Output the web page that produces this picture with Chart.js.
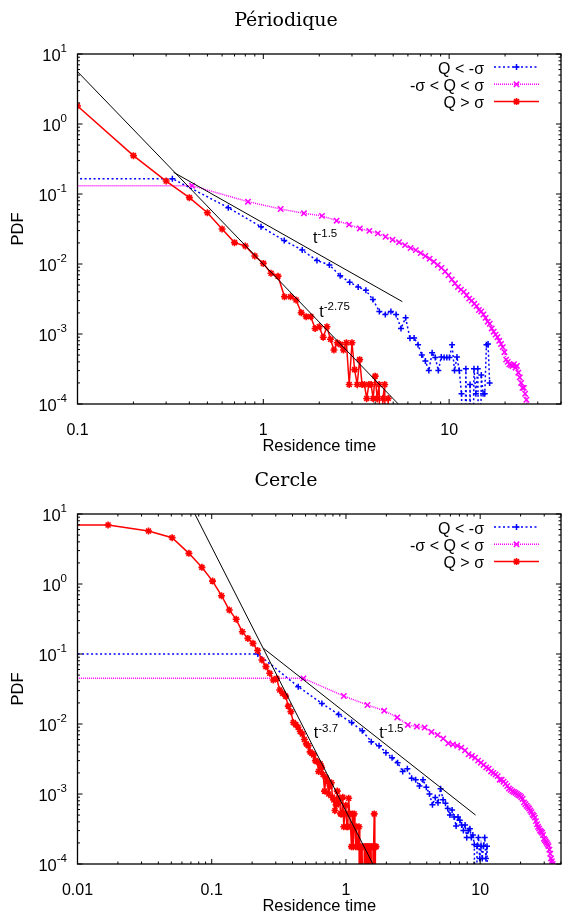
<!DOCTYPE html>
<html>
<head>
<meta charset="utf-8">
<script src="https://cdn.jsdelivr.net/npm/chart.js@4.4.1/dist/chart.umd.min.js"></script>
<style>
  body { margin: 0; width: 563px; height: 915px; overflow: hidden; background: #fff; }
  .box { position: absolute; left: 0; width: 570px; height: 460px; }
</style>
</head>
<body>
<div class="box" style="top:0"><canvas id="per" width="570" height="460"></canvas></div>
<div class="box" style="top:460px"><canvas id="cer" width="570" height="460"></canvas></div>
<script>
// --- Périodique (top) ---
// 1e-6 = empty bin (drawn below the axis, like the drops in the original)
const perBlueX = [0.05,0.324,0.648,0.972,1.296,1.62,1.944,2.268,2.592,2.916,3.24,3.564,3.888,4.212,4.536,4.86,5.184,5.508,5.832,6.156,6.48,6.804,7.128,7.452,7.776,8.1,8.424,8.748,9.072,9.396,9.72,10.04,10.37,10.69,11.02,11.34,11.66,11.99,12.31,12.64,12.96,13.28,13.61,13.93,14.26,14.58,14.9,15.23,15.55,15.88,16.2,16.52];
const perBlueY = [0.1656,0.1656,0.0638,0.0341,0.0216,0.0158,0.0112,0.0097,0.0068,0.0055,0.0047,0.0042,0.0031,0.0021,0.0019,0.0021,0.0019,0.0012,0.0017,0.00087,0.00088,0.0007,0.0005,0.00041,0.0003,0.00054,0.00046,0.0003,0.00047,0.00046,0.00046,0.00046,0.0007,0.0003,0.00047,0.0003,0.00014,1e-6,0.00032,1e-6,0.00019,1e-6,0.00032,0.00014,0.00032,1e-6,0.00026,0.00014,0.00014,0.0007,0.00072,0.0002];

const perMagX = [0.05,0.4135,0.827,1.24,1.654,2.068,2.481,2.895,3.308,3.722,4.135,4.549,4.962,5.376,5.789,6.203,6.616,7.03,7.443,7.857,8.27,8.684,9.097,9.511,9.924,10.34,10.75,11.16,11.58,11.99,12.41,12.82,13.23,13.65,14.06,14.47,14.89,15.3,15.71,16.13,16.54,16.95,17.37,17.78,18.2,18.61,19.02,19.44,19.85,20.27,20.68,21.09,21.51,21.92,22.33,22.75,23.16,23.57,23.99,24.4,24.81,25.23,25.64,26.05,26.47];
const perMagY = [0.1315,0.1315,0.0777,0.061,0.053,0.0487,0.0416,0.0365,0.0322,0.0297,0.0274,0.0245,0.0222,0.0205,0.0186,0.0169,0.0158,0.0143,0.013,0.0119,0.0108,0.0097,0.0088,0.0078,0.0069,0.006,0.0053,0.0047,0.0043,0.004,0.0036,0.0032,0.003,0.0027,0.0025,0.0022,0.0021,0.0019,0.0017,0.0015,0.0014,0.0012,0.00108,0.00098,0.0009,0.0008,0.00072,0.00065,0.00055,0.00043,0.0004,0.00037,0.00036,0.00035,0.00037,0.00033,0.00035,0.00028,0.00024,0.0002,0.00017,0.00017,0.00014,0.000115,0.00009];

const perRedX = [0.1,0.2,0.3,0.4,0.5,0.6,0.7,0.8,0.9,1.0,1.1,1.2,1.3,1.4,1.5,1.6,1.7,1.8,1.9,2.0,2.1,2.2,2.3,2.4,2.5,2.6,2.7,2.8,2.9,3.0,3.1,3.2,3.3,3.4,3.5,3.6,3.7,3.8,3.9,4.0,4.1,4.2,4.3,4.4,4.5,4.6,4.7,4.8];
const perRedY = [1.81,0.353,0.153,0.0887,0.054,0.0316,0.0202,0.0181,0.013,0.0102,0.00736,0.0067,0.0034,0.0034,0.00306,0.00202,0.00177,0.00177,0.0012,0.00127,0.0009,0.00127,0.00084,0.00059,0.00075,0.00071,0.00059,0.00075,0.00019,0.00075,0.00031,0.00019,0.00043,0.00019,0.00019,0.00012,0.00019,0.00019,0.00012,0.00025,0.00012,0.00019,1e-6,0.00012,0.00019,1e-6,0.00012,1e-6];

const perFitAX = [0.329, 5.6], perFitAY = [0.204, 0.0029];     // t^-1.5
const perFitBX = [0.1, 6.0], perFitBY = [5.6, 0.000072];       // t^-2.75

// --- Cercle (bottom) ---
const cerBlueX = [0.005,0.2205,0.441,0.6615,0.882,1.1025,1.323,1.5435,1.764,1.9845,2.205,2.4255,2.646,2.8665,3.087,3.3075,3.528,3.7485,3.969,4.1895,4.41,4.6305,4.851,5.0715,5.292,5.5125,5.733,5.9535,6.174,6.3945,6.615,6.8355,7.056,7.2765,7.497,7.7175,7.938,8.1585,8.379,8.5995,8.82,9.0405,9.261,9.4815,9.702,9.9225,10.143,10.3635,10.584,10.8045,11.025,11.2455,11.466];
const cerBlueY = [0.1,0.1,0.0341,0.0197,0.0137,0.0105,0.008,0.0056,0.0049,0.0039,0.0033,0.0028,0.0021,0.0023,0.00168,0.0016,0.0013,0.0016,0.00125,0.001,0.0007,0.00089,0.00075,0.00119,0.00083,0.00074,0.00062,0.0005,0.00059,0.00047,0.00035,0.00047,0.00042,0.00036,0.0003,0.00036,0.00024,0.0003,0.00032,0.00024,0.00026,0.00019,1e-6,0.00018,0.00024,0.00012,0.00018,0.00012,0.00018,0.00024,0.00012,0.00018,1e-6];

const cerMagX = [0.005,0.482,0.964,1.446,1.928,2.41,2.892,3.374,3.856,4.338,4.82,5.302,5.784,6.266,6.748,7.23,7.712,8.194,8.676,9.158,9.64,10.12,10.6,11.09,11.57,12.05,12.53,13.01,13.5,13.98,14.46,14.94,15.42,15.91,16.39,16.87,17.35,17.83,18.32,18.8,19.28,19.76,20.24,20.72,21.2,21.69,22.17,22.65,23.13,23.61,24.1,24.58,25.06,25.54,26.02,26.51,26.99,27.47,27.95,28.43,28.92,29.4,29.88,30.36,30.84,31.33,31.81,32.29,32.77,33.25,33.74,34.22,34.7,35.18];
const cerMagY = [0.0449,0.0449,0.0251,0.0187,0.0155,0.0124,0.0097,0.0092,0.0089,0.0077,0.007,0.0062,0.0053,0.0051,0.0049,0.0046,0.0042,0.0037,0.0035,0.0033,0.003,0.0028,0.0026,0.0024,0.0023,0.0021,0.002,0.0019,0.0018,0.0016,0.0016,0.0015,0.0014,0.0013,0.0012,0.00115,0.0011,0.00107,0.00104,0.001,0.00097,0.00094,0.0009,0.00085,0.00076,0.00072,0.00068,0.00065,0.00062,0.00058,0.00055,0.00051,0.00049,0.00046,0.00041,0.00037,0.00034,0.00032,0.0003,0.00029,0.00028,0.00026,0.00023,0.00022,0.00021,0.0002,0.00019,0.00018,0.00016,0.00014,0.00012,0.00011,0.0001,0.000092];

const cerRedX = [0.005,0.0169,0.0338,0.0507,0.0676,0.0845,0.1014,0.1183,0.1352,0.1521,0.169,0.1859,0.2028,0.2197,0.2366,0.2535,0.2704,0.2873,0.3042,0.3211,0.338,0.3549,0.3718,0.3887,0.4056,0.4225,0.4394,0.4563,0.4732,0.4901,0.507,0.5239,0.5408,0.5577,0.5746,0.5915,0.6084,0.6253,0.6422,0.6591,0.676,0.6929,0.7098,0.7267,0.7436,0.7605,0.7774,0.7943,0.8112,0.8281,0.845,0.8619,0.8788,0.8957,0.9126,0.9295,0.9464,0.9633,0.9802,0.9971,1.014,1.031,1.048,1.065,1.082,1.099,1.116,1.133,1.15,1.167,1.183,1.2,1.217,1.234,1.251,1.268,1.285,1.302,1.319,1.336,1.352,1.369,1.386,1.403,1.42,1.437,1.454,1.471,1.488,1.505,1.522,1.539,1.556,1.573,1.59,1.607,1.624,1.641,1.658,1.675];
const cerRedY = [6.96,6.96,5.72,4.59,2.74,1.73,1.1,0.681,0.425,0.313,0.208,0.167,0.142,0.112,0.082,0.066,0.053,0.0425,0.0445,0.0306,0.0274,0.025,0.018,0.015,0.0105,0.0098,0.009,0.0078,0.0072,0.006,0.0052,0.0049,0.004,0.0038,0.0036,0.003,0.0029,0.0021,0.0027,0.0024,0.0019,0.0011,0.0017,0.0015,0.001,0.0013,0.00145,0.0009,0.00082,0.00058,0.0007,0.0011,0.00074,0.00087,0.00052,0.00052,0.0009,0.00034,0.00052,0.00069,0.00034,0.00034,0.00087,0.00052,0.00034,0.000177,0.00052,0.000177,0.00052,0.00034,0.000177,0.00034,0.000177,0.000177,0.00034,1e-6,0.000177,1e-6,0.000177,0.000177,1e-6,0.000177,1e-6,0.000177,0.000177,1e-6,0.000177,0.000177,1e-6,0.000177,1e-6,0.000177,0.000177,1e-6,0.000177,0.000177,0.00052,1e-6,0.000177,0.000177];

const cerFitAX = [0.07, 1.7], cerFitAY = [12.9, 0.000077];     // t^-3.7
const cerFitBX = [0.243, 9.24], cerFitBY = [0.1205, 0.0005];   // t^-1.5

const seriesNames = ['Q < -σ', '-σ < Q < σ', 'Q > σ'];
const yDecades = [1e-4, 1e-3, 1e-2, 1e-1, 1, 10];
const yExp = ['-4', '-3', '-2', '-1', '0', '1'];

const SANS = '"Liberation Sans", Arial, sans-serif';

function pts(xs, ys) {
  return xs.map((x, i) => ({x: x, y: ys[i]}));
}

function drawMark(ctx, style, x, y, r) {
  ctx.beginPath();
  if (style === 'cross' || style === 'star') {
    ctx.moveTo(x - r, y); ctx.lineTo(x + r, y);
    ctx.moveTo(x, y - r); ctx.lineTo(x, y + r);
  }
  if (style === 'crossRot' || style === 'star') {
    const d = r * Math.SQRT1_2;
    ctx.moveTo(x - d, y - d); ctx.lineTo(x + d, y + d);
    ctx.moveTo(x - d, y + d); ctx.lineTo(x + d, y - d);
  }
  ctx.stroke();
}

// gnuplot-like frame, inward ticks, 10^n labels, fit labels, key and title
function gnuplotLook(title, notes) {
  return {
    id: 'gnuplotLook',
    afterDatasetsDraw(chart) {
      const ctx = chart.ctx;
      const a = chart.chartArea;
      const xs = chart.scales.x, ys = chart.scales.y;
      ctx.save();
      ctx.strokeStyle = '#000';
      ctx.fillStyle = '#000';
      ctx.lineWidth = 1;
      ctx.setLineDash([]);

      ctx.beginPath();
      for (let e = Math.floor(Math.log10(xs.min)); e <= Math.ceil(Math.log10(xs.max)); e++) {
        for (let m = 1; m < 10; m++) {
          const v = m * Math.pow(10, e);
          if (v < xs.min * 0.999 || v > xs.max * 1.001) continue;
          const p = xs.getPixelForValue(v), len = m === 1 ? 5 : 2.5;
          ctx.moveTo(p, a.bottom); ctx.lineTo(p, a.bottom - len);
          ctx.moveTo(p, a.top); ctx.lineTo(p, a.top + len);
        }
      }
      for (let e = -4; e <= 1; e++) {
        for (let m = 1; m < 10; m++) {
          const v = m * Math.pow(10, e);
          if (v > ys.max * 1.001) continue;
          const p = ys.getPixelForValue(v), len = m === 1 ? 5 : 2.5;
          ctx.moveTo(a.left, p); ctx.lineTo(a.left + len, p);
          ctx.moveTo(a.right, p); ctx.lineTo(a.right - len, p);
        }
      }
      ctx.stroke();
      ctx.lineWidth = 1.3;
      ctx.strokeRect(a.left, a.top, a.right - a.left, a.bottom - a.top);

      // y tick labels with superscripts
      yDecades.forEach((v, i) => {
        const p = ys.getPixelForValue(v);
        ctx.font = '11.5px ' + SANS;
        const sw = ctx.measureText(yExp[i]).width;
        ctx.font = '16.5px ' + SANS;
        const bw = ctx.measureText('10').width;
        const x0 = a.left - 10.5 - sw - bw;
        ctx.textAlign = 'left';
        ctx.textBaseline = 'alphabetic';
        ctx.fillText('10', x0, p + 7);
        ctx.font = '11.5px ' + SANS;
        ctx.fillText(yExp[i], x0 + bw, p - 2);
      });

      // t^-n labels next to the fitted lines
      notes.forEach(n => {
        const px = xs.getPixelForValue(n.x), py = ys.getPixelForValue(n.y);
        ctx.font = '16px ' + SANS;
        ctx.fillText('t', px, py);
        const tw = ctx.measureText('t').width;
        ctx.font = '11.5px ' + SANS;
        ctx.fillText(n.sup, px + tw, py - 6.5);
      });

      // key, top right
      chart.data.datasets.filter(d => d.label).forEach((d, i) => {
        const yy = a.top + 13 + i * 17.3;
        ctx.font = '16px ' + SANS;
        ctx.textAlign = 'right';
        ctx.fillStyle = '#000';
        ctx.fillText(d.label, a.right - 77, yy + 6.5);
        ctx.strokeStyle = d.borderColor;
        ctx.lineWidth = d.borderWidth;
        ctx.setLineDash(d.borderDash || []);
        ctx.beginPath();
        ctx.moveTo(a.right - 67, yy); ctx.lineTo(a.right - 22, yy);
        ctx.stroke();
        ctx.setLineDash([]);
        ctx.lineWidth = d.pointBorderWidth;
        drawMark(ctx, d.pointStyle, a.right - 44.5, yy, d.pointRadius);
      });

      // title
      ctx.fillStyle = '#000';
      ctx.font = '19px "DejaVu Serif", serif';
      ctx.textAlign = 'center';
      ctx.fillText(title, 286, 26);
      ctx.restore();
    }
  };
}

function makeChart(id, cfg) {
  const fitStyle = {borderColor: '#000', borderWidth: 1, pointRadius: 0, order: 1};
  return new Chart(document.getElementById(id), {
    type: 'line',
    data: {
      datasets: [
        {label: seriesNames[0], data: pts(cfg.blueX, cfg.blueY), borderColor: '#0000ff',
         borderWidth: 1.5, borderDash: [2, 2.5], pointStyle: 'cross', pointRadius: 3,
         pointBorderWidth: 1.5, pointBorderColor: '#0000ff', order: 4},
        {label: seriesNames[1], data: pts(cfg.magX, cfg.magY), borderColor: '#ff00ff',
         borderWidth: 1.5, borderDash: [1, 1], pointStyle: 'crossRot', pointRadius: 3.8,
         pointBorderWidth: 1.5, pointBorderColor: '#ff00ff', order: 3},
        {label: seriesNames[2], data: pts(cfg.redX, cfg.redY), borderColor: '#ff0000',
         borderWidth: 1.5, pointStyle: 'star', pointRadius: 3.5,
         pointBorderWidth: 1.6, pointBorderColor: '#ff0000', order: 2},
        Object.assign({label: '', data: pts(cfg.fitAX, cfg.fitAY)}, fitStyle),
        Object.assign({label: '', data: pts(cfg.fitBX, cfg.fitBY)}, fitStyle),
      ],
    },
    options: {
      responsive: false,
      animation: false,
      devicePixelRatio: 1,
      layout: {padding: {top: 54, right: 5, bottom: 0, left: 0}},
      plugins: {legend: {display: false}, title: {display: false}, tooltip: {enabled: false}},
      scales: {
        x: {
          type: 'logarithmic', min: cfg.xMin, max: 40,
          grid: {display: false}, border: {display: false},
          ticks: {
            autoSkip: false, maxRotation: 0, padding: 9, color: '#000',
            font: {family: SANS, size: 16},
            callback: v => (cfg.xTicks.some(t => Math.abs(t - v) < t * 1e-6) ? String(v) : ''),
          },
          title: {display: true, text: 'Residence time', color: '#000',
                  font: {family: SANS, size: 16.5}, padding: {top: 0, bottom: 4}},
          afterFit: s => { s.height = 56; },
        },
        y: {
          type: 'logarithmic', min: 1e-4, max: 10,
          grid: {display: false}, border: {display: false},
          ticks: {display: false},
          title: {display: true, text: 'PDF', color: '#000',
                  font: {family: SANS, size: 16.5}, padding: {top: 9, bottom: 0}},
          afterFit: s => { s.width = 77.5; },
        },
      },
    },
    plugins: [gnuplotLook(cfg.title, cfg.notes)],
  });
}

makeChart('per', {
  title: 'Périodique', xMin: 0.1, xTicks: [0.1, 1, 10],
  blueX: perBlueX, blueY: perBlueY, magX: perMagX, magY: perMagY, redX: perRedX, redY: perRedY,
  fitAX: perFitAX, fitAY: perFitAY, fitBX: perFitBX, fitBY: perFitBY,
  notes: [{sup: '-1.5', x: 1.85, y: 0.0199}, {sup: '-2.75', x: 2.0, y: 0.00177}],
});

makeChart('cer', {
  title: 'Cercle', xMin: 0.01, xTicks: [0.01, 0.1, 1, 10],
  blueX: cerBlueX, blueY: cerBlueY, magX: cerMagX, magY: cerMagY, redX: cerRedX, redY: cerRedY,
  fitAX: cerFitAX, fitAY: cerFitAY, fitBX: cerFitBX, fitBY: cerFitBY,
  notes: [{sup: '-3.7', x: 0.576, y: 0.00625}, {sup: '-1.5', x: 1.77, y: 0.00625}],
});
</script>
</body>
</html>
